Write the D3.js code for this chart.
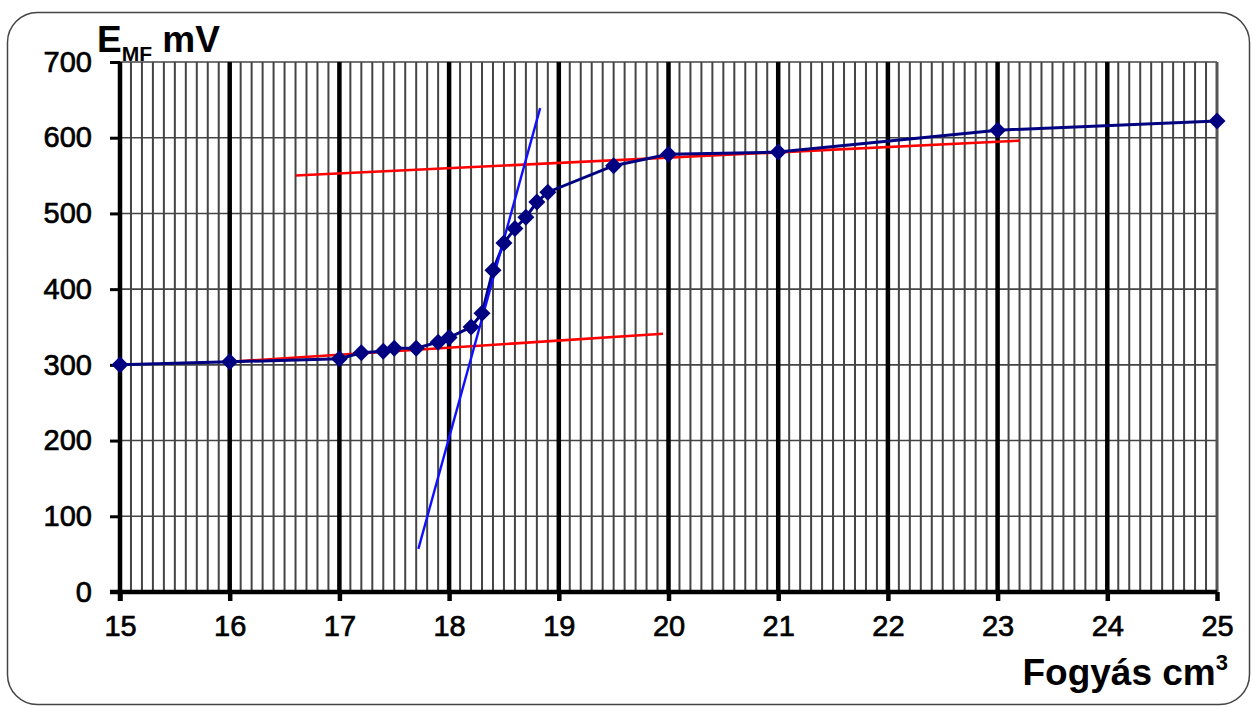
<!DOCTYPE html>
<html>
<head>
<meta charset="utf-8">
<script src="https://cdn.jsdelivr.net/npm/d3@7"></script>
<style>
  html, body { margin: 0; padding: 0; background: #fff; }
  svg { display: block; }
</style>
</head>
<body>
<svg id="chart"></svg>
<script>
// measured titration curve
const volume = [15, 16, 17, 17.2, 17.4, 17.5, 17.7, 17.9, 18, 18.2, 18.3, 18.4, 18.5, 18.6, 18.7, 18.8, 18.9, 19.5, 20, 21, 23, 25];
const emf    = [300, 304, 308, 316, 318, 322, 322, 330, 336, 350, 368, 425, 461, 480, 495, 515, 528, 563, 578, 581, 610, 622];

// construction lines
const lowLineX   = [16, 19.95];
const lowLineY   = [304, 341];
const highLineX  = [16.6, 23.2];
const highLineY  = [550, 596];
const steepLineX = [17.72, 18.83];
const steepLineY = [57, 639];

const xTicks = [15, 16, 17, 18, 19, 20, 21, 22, 23, 24, 25];
const yTicks = [0, 100, 200, 300, 400, 500, 600, 700];

const width = 1255, height = 707;
const margin = { top: 62, right: 38, bottom: 115, left: 120 };

const svg = d3.select("#chart")
    .attr("width", width)
    .attr("height", height)
    .style("font-family", "Liberation Sans, Arial, sans-serif");

// rounded frame
svg.append("rect")
    .attr("x", 7.5).attr("y", 12.5)
    .attr("width", width - 13).attr("height", height - 15)
    .attr("rx", 30).attr("ry", 30)
    .attr("fill", "none")
    .attr("stroke", "#444")
    .attr("stroke-width", 1.5);

const x = d3.scaleLinear()
    .domain([15, 25])
    .range([margin.left, width - margin.right]);

const y = d3.scaleLinear()
    .domain([0, 700])
    .range([height - margin.bottom, margin.top]);

const grid = svg.append("g");

// minor vertical grid every 0.1
const minor = d3.range(151, 250).filter(d => d % 10 !== 0).map(d => d / 10);
grid.selectAll("line.minor")
  .data(minor)
  .join("line")
    .attr("x1", d => x(d)).attr("x2", d => x(d))
    .attr("y1", y(700)).attr("y2", y(0))
    .attr("stroke", "#444")
    .attr("stroke-width", 2);

// horizontal grid
grid.selectAll("line.h")
  .data(yTicks.filter(d => d > 0))
  .join("line")
    .attr("x1", x(15)).attr("x2", x(25))
    .attr("y1", d => y(d)).attr("y2", d => y(d))
    .attr("stroke", "#444")
    .attr("stroke-width", 1.6);

// major vertical grid
grid.selectAll("line.major")
  .data(xTicks.slice(1))
  .join("line")
    .attr("x1", d => x(d)).attr("x2", d => x(d))
    .attr("y1", y(700)).attr("y2", y(0))
    .attr("stroke", d => d === 25 ? "#555" : "#000")
    .attr("stroke-width", d => d === 25 ? 3 : 4.5);

// axes
const xAxis = svg.append("g")
    .attr("transform", `translate(0,${y(0)})`)
    .call(d3.axisBottom(x).tickValues(xTicks).tickSize(9).tickPadding(14).tickFormat(d3.format("d")));
xAxis.select(".domain").attr("stroke", "#000").attr("stroke-width", 4.5)
    .attr("d", `M${x(15) - 10},0H${x(25)}`);
xAxis.selectAll(".tick line").attr("stroke", "#000").attr("stroke-width", 4.5);
xAxis.selectAll(".tick text").attr("font-size", 29).attr("fill", "#000")
    .attr("stroke", "#000").attr("stroke-width", 0.7)
    .attr("font-family", "Liberation Sans, Arial, sans-serif");

const yAxis = svg.append("g")
    .attr("transform", `translate(${x(15)},0)`)
    .call(d3.axisLeft(y).tickValues(yTicks).tickSize(10).tickPadding(18));
yAxis.select(".domain").attr("stroke", "#000").attr("stroke-width", 4.5)
    .attr("d", `M0,${y(700)}V${y(0) + 9}`);
yAxis.selectAll(".tick line").attr("stroke", "#000").attr("stroke-width", 3);
yAxis.selectAll(".tick text").attr("font-size", 29).attr("fill", "#000")
    .attr("stroke", "#000").attr("stroke-width", 0.7)
    .attr("font-family", "Liberation Sans, Arial, sans-serif");

// construction lines
const seg = (xs, ys) => xs.map((v, i) => [v, ys[i]]);
const line = d3.line().x(d => x(d[0])).y(d => y(d[1]));

svg.append("path").datum(seg(lowLineX, lowLineY))
    .attr("d", line).attr("fill", "none").attr("stroke", "#ff0000").attr("stroke-width", 2.6);
svg.append("path").datum(seg(highLineX, highLineY))
    .attr("d", line).attr("fill", "none").attr("stroke", "#ff0000").attr("stroke-width", 2.6);

// data curve
const pts = seg(volume, emf);
svg.append("path").datum(pts)
    .attr("d", line).attr("fill", "none").attr("stroke", "#000080").attr("stroke-width", 3);

svg.append("path").datum(seg(steepLineX, steepLineY))
    .attr("d", line).attr("fill", "none").attr("stroke", "#1010ff").attr("stroke-width", 2.4);

svg.append("g").selectAll("path")
  .data(pts)
  .join("path")
    .attr("transform", d => `translate(${x(d[0])},${y(d[1])})`)
    .attr("d", "M0,-8.5L8.5,0L0,8.5L-8.5,0Z")
    .attr("fill", "#000080");

// axis titles
const yTitle = svg.append("text")
    .attr("x", 97).attr("y", 52)
    .attr("font-size", 37).attr("font-weight", "bold").attr("fill", "#000");
yTitle.append("tspan").text("E");
yTitle.append("tspan").attr("font-size", 21).attr("dy", 9).text("MF");
yTitle.append("tspan").attr("dy", -9).text(" mV");

const xTitle = svg.append("text")
    .attr("x", 1228).attr("y", 685)
    .attr("text-anchor", "end")
    .attr("font-size", 37).attr("font-weight", "bold").attr("fill", "#000");
xTitle.append("tspan").text("Fogyás cm");
xTitle.append("tspan").attr("font-size", 22).attr("dy", -15).text("3");
</script>
</body>
</html>
